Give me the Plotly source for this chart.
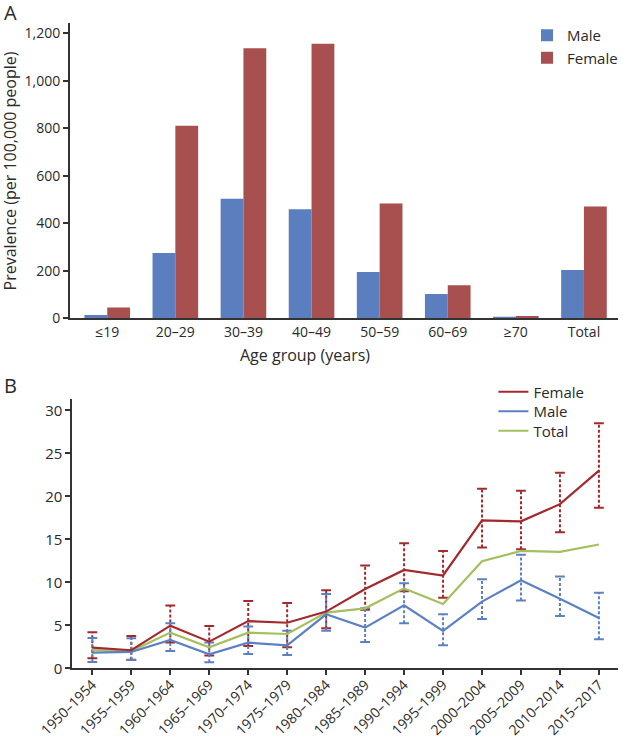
import plotly.graph_objects as go

# panel A data
age_groups = ["≤19", "20–29", "30–39", "40–49", "50–59", "60–69", "≥70", "Total"]
male_prev = [14, 275, 504, 459, 195, 102, 5, 203]
female_prev = [45, 811, 1137, 1156, 483, 139, 10, 471]

# panel B data
periods = ["1950–1954", "1955–1959", "1960–1964", "1965–1969", "1970–1974",
           "1975–1979", "1980–1984", "1985–1989", "1990–1994", "1995–1999",
           "2000–2004", "2005–2009", "2010–2014", "2015–2017"]
female_inc = [2.4, 2.1, 4.96, 3.1, 5.5, 5.3, 6.6, 9.23, 11.45, 10.8, 17.2, 17.1, 19.1, 23.0]
female_lo = [1.16, 1.0, 3.0, 1.5, 2.6, 2.45, 4.66, 6.8, 8.97, 8.2, 14.05, 13.85, 15.84, 18.67]
female_hi = [4.2, 3.76, 7.3, 4.93, 7.84, 7.6, 9.08, 11.95, 14.55, 13.66, 20.9, 20.65, 22.75, 28.5]
male_inc = [1.82, 1.9, 3.3, 1.63, 2.98, 2.68, 6.28, 4.73, 7.34, 4.34, 7.76, 10.24, 8.1, 5.86]
male_lo = [0.73, 0.97, 2.0, 0.7, 1.66, 1.55, 4.38, 3.05, 5.24, 2.68, 5.74, 7.88, 6.09, 3.38]
male_hi = [3.53, 3.49, 5.24, 3.0, 4.85, 4.38, 8.65, 7.0, 9.9, 6.29, 10.36, 13.2, 10.67, 8.8]
total_inc = [2.13, 2.0, 4.15, 2.44, 4.15, 3.99, 6.48, 6.98, 9.3, 7.49, 12.46, 13.66, 13.54, 14.4]

RED_BAR = "#A84F4F"
BLUE_BAR = "#5B7FBE"
RED = "#A3292C"
BLUE = "#5C80C4"
GREEN = "#A4C05C"
TXT = "#2a2a2a"
FONT = "Open Sans"

fig = go.Figure()

fig.add_trace(go.Bar(x=age_groups, y=male_prev, name="Male", marker_color=BLUE_BAR,
                     marker_line_width=0, xaxis="x", yaxis="y", legend="legend"))
fig.add_trace(go.Bar(x=age_groups, y=female_prev, name="Female", marker_color=RED_BAR,
                     marker_line_width=0, xaxis="x", yaxis="y", legend="legend"))

xs = list(range(len(periods)))


def err_traces(lo, hi, color):
    vx, vy = [], []
    for i in xs:
        vx += [i, i, None]
        vy += [lo[i], hi[i], None]
    fig.add_trace(go.Scatter(x=vx, y=vy, mode="lines", line=dict(color=color, width=2, dash="3px,2px"),
                             showlegend=False, hoverinfo="skip", xaxis="x2", yaxis="y2"))
    fig.add_trace(go.Scatter(x=xs + xs, y=lo + hi, mode="markers",
                             marker=dict(symbol="line-ew", size=7, line=dict(color=color, width=2)),
                             showlegend=False, hoverinfo="skip", xaxis="x2", yaxis="y2"))


err_traces(female_lo, female_hi, RED)
err_traces(male_lo, male_hi, BLUE)

# each line series gets its own legend so the rows can sit at the reference spacing
fig.add_trace(go.Scatter(x=xs, y=total_inc, mode="lines", name="Total", line=dict(color=GREEN, width=2.2),
                         xaxis="x2", yaxis="y2", legend="legend4"))
fig.add_trace(go.Scatter(x=xs, y=male_inc, mode="lines", name="Male", line=dict(color=BLUE, width=2.2),
                         xaxis="x2", yaxis="y2", legend="legend3"))
fig.add_trace(go.Scatter(x=xs, y=female_inc, mode="lines", name="Female", line=dict(color=RED, width=2.2),
                         xaxis="x2", yaxis="y2", legend="legend2"))

W, H = 623, 740

axis_common = dict(showline=True, linecolor="#333", linewidth=1.5, showgrid=False, zeroline=False,
                   tickcolor="#333", tickfont=dict(family=FONT, size=14, color=TXT))

leg_font = dict(family=FONT, size=15, color=TXT)


def line_legend(ypix):
    return dict(x=495 / W, y=1 - ypix / H, xanchor="left", yanchor="middle",
                bgcolor="rgba(0,0,0,0)", font=leg_font, itemwidth=30)


fig.update_layout(
    width=W, height=H,
    margin=dict(l=0, r=0, t=0, b=0),
    plot_bgcolor="white", paper_bgcolor="white",
    font=dict(family=FONT, color=TXT),
    barmode="group", bargap=0.33, bargroupgap=0,
    xaxis=dict(domain=[70 / W, 620 / W], anchor="y", range=[-0.55, 7.5], ticks="",
               automargin=False, **axis_common),
    yaxis=dict(domain=[1 - 318.3 / H, 1 - 22.7 / H], anchor="x", range=[0, 1245],
               tickvals=[0, 200, 400, 600, 800, 1000, 1200], tickformat=",d",
               ticks="outside", ticklen=5, tickwidth=1.5, automargin=False, **axis_common),
    xaxis2=dict(domain=[72.3 / W, 620 / W], anchor="y2", range=[-0.52, 13.49],
                tickvals=xs, ticktext=periods, tickangle=-45, ticks="outside", ticklen=5, tickwidth=1.5,
                ticklabelstandoff=-4, automargin=False,
                **{**axis_common, "tickfont": dict(family=FONT, size=14, color=TXT)}),
    yaxis2=dict(domain=[1 - 668.3 / H, 1 - 399.3 / H], anchor="x2", range=[0, 31.3],
                tickvals=[0, 5, 10, 15, 20, 25, 30], ticks="outside", ticklen=5, tickwidth=1.5,
                automargin=False, **{**axis_common, "tickfont": dict(family=FONT, size=15, color=TXT)}),
    legend=dict(x=529 / W, y=1 - 19 / H, xanchor="left", yanchor="top", bgcolor="rgba(0,0,0,0)",
                font=leg_font, itemwidth=30, tracegroupgap=0),
    legend2=line_legend(392),
    legend3=line_legend(411.5),
    legend4=line_legend(431),
    showlegend=True,
)

fig.add_annotation(text="Prevalence (per 100,000 people)", xref="paper", yref="paper",
                   x=10 / W, y=1 - 170.5 / H, xanchor="center", yanchor="middle",
                   textangle=-90, showarrow=False, font=dict(family=FONT, size=16, color=TXT))
fig.add_annotation(text="Age group (years)", xref="paper", yref="paper",
                   x=306 / W, y=1 - 355 / H, xanchor="center", yanchor="middle", showarrow=False,
                   font=dict(family=FONT, size=16, color=TXT))
fig.add_annotation(text="A", xref="paper", yref="paper", x=2 / W, y=1 - 12 / H,
                   xanchor="left", yanchor="middle", showarrow=False,
                   font=dict(family=FONT, size=20, color=TXT))
fig.add_annotation(text="B", xref="paper", yref="paper", x=2 / W, y=1 - 385 / H,
                   xanchor="left", yanchor="middle", showarrow=False,
                   font=dict(family=FONT, size=20, color=TXT))

# drop the default 8px body margin so the 623x740 figure fills the window exactly
fig.write_html("out.html", config={"displayModeBar": False},
               post_script="document.body.style.margin = '0';")
